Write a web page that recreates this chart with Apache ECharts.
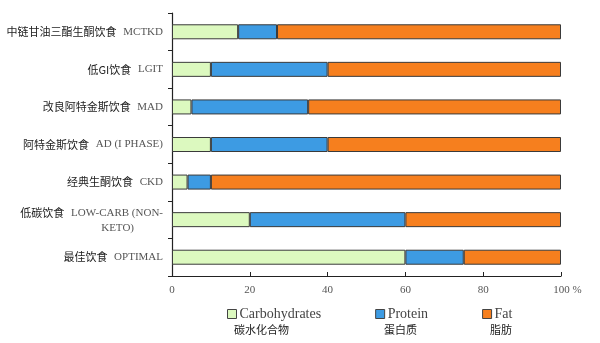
<!DOCTYPE html>
<html><head><meta charset="utf-8">
<script src="https://cdn.jsdelivr.net/npm/echarts@6/dist/echarts.min.js"></script>
<style>html,body{margin:0;padding:0;background:#fff}#c{width:600px;height:343px}</style>
</head><body><div id="c"></div>
<script>
var categoriesCn = ['中链甘油三酯生酮饮食','低GI饮食','改良阿特金斯饮食','阿特金斯饮食','经典生酮饮食','低碳饮食','最佳饮食'];
var categoriesEn = ['MCTKD','LGIT','MAD','AD (I PHASE)','CKD','LOW-CARB (NON-\nKETO)','OPTIMAL'];
var carbs   = [17, 10, 5, 10, 4, 20, 60];
var protein = [10, 30, 30, 30, 6, 40, 15];
var fat     = [73, 60, 65, 60, 90, 40, 25];
var seriesNames = ['Carbohydrates','Protein','Fat'];
var seriesNamesCn = ['碳水化合物','蛋白质','脂肪'];
var xTicks = [0, 20, 40, 60, 80, 100];

var colors = ['#dcf9bf','#3d9be3','#f67f1e'];
var cats = categoriesCn.map(function(c,i){return c+'|'+categoriesEn[i];});
var chart = echarts.init(document.getElementById('c'));
var serifF = '"Liberation Serif","DejaVu Serif",serif';
var sansF = '"Noto Sans CJK SC","Noto Sans",sans-serif';
function mk(name, data, color){
  return {name:name,type:'bar',stack:'t',data:data,barWidth:15,
    itemStyle:{color:color,borderColor:'#3a3a3a',borderWidth:1}};
}
chart.setOption({
  animation:false,
  grid:{left:172,right:39,top:13,bottom:67},
  xAxis:{type:'value',min:xTicks[0],max:xTicks[xTicks.length-1],interval:20,
    splitLine:{show:false},
    axisLine:{show:true,lineStyle:{color:'#222',width:1.2}},
    axisTick:{show:true,inside:true,length:4,lineStyle:{color:'#222'}},
    axisLabel:{margin:9,color:'#555',fontFamily:serifF,fontSize:11,
      formatter:function(v){return v===100?'{pl|100 %}':String(v);},
      rich:{pl:{padding:[0,0,0,13],color:'#555',fontFamily:serifF,fontSize:11}}}
  },
  yAxis:{type:'category',inverse:true,data:cats,
    axisLine:{show:true,lineStyle:{color:'#222',width:1.2}},
    axisTick:{show:true,length:4,lineStyle:{color:'#222'}},
    axisLabel:{margin:9,
      formatter:function(v){
        var p=v.split('|');
        var en=p[1].split('\n');
        var s='{cn|'+p[0]+'}  {en|'+en[0]+'}';
        if(en.length>1) s+='\n{en2|'+en[1]+'}';
        return s;
      },
      rich:{
        cn:{fontFamily:sansF,fontSize:11,color:'#222',lineHeight:16},
        en:{fontFamily:serifF,fontSize:11,color:'#555',lineHeight:16},
        en2:{fontFamily:serifF,fontSize:11,color:'#555',lineHeight:14,padding:[0,29,0,0]}
      }
    }
  },
  legend:{left:222,top:302,itemWidth:9,itemHeight:9,itemGap:54,
    icon:'rect',
    textStyle:{fontFamily:serifF,fontSize:14,color:'#444',padding:[0,0,0,-2]},
    data:seriesNames,
    itemStyle:{borderColor:'#444',borderWidth:1}
  },
  graphic:[
    {type:'text',left:234,top:324,style:{text:seriesNamesCn[0],font:'11px "Noto Sans CJK SC"',fill:'#222'}},
    {type:'text',left:384,top:324,style:{text:seriesNamesCn[1],font:'11px "Noto Sans CJK SC"',fill:'#222'}},
    {type:'text',left:490,top:324,style:{text:seriesNamesCn[2],font:'11px "Noto Sans CJK SC"',fill:'#222'}}
  ],
  series:[mk(seriesNames[0],carbs,colors[0]),mk(seriesNames[1],protein,colors[1]),mk(seriesNames[2],fat,colors[2])]
});
</script></body></html>
